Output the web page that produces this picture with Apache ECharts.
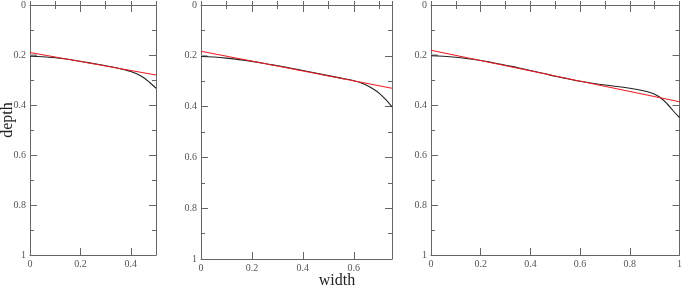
<!DOCTYPE html>
<html><head><meta charset="utf-8">
<script src="https://cdn.jsdelivr.net/npm/echarts@6/dist/echarts.min.js"></script>
<style>html,body{margin:0;padding:0;background:#fff}#c{width:685px;height:287px}</style>
</head><body><div id="c"></div>
<script>
// panel x-axis ranges
const widthMax = [0.5, 0.75, 1];

// panel 1 (width 0..0.5)
const w1 = [0, 0.05, 0.1, 0.15, 0.2, 0.25, 0.3, 0.35, 0.375, 0.4, 0.425, 0.45, 0.475, 0.5];
const depth1 = [0.205, 0.207, 0.211, 0.217, 0.225, 0.234, 0.243, 0.253, 0.259, 0.266, 0.276, 0.29, 0.31, 0.333];
const fitW1 = [0, 0.5];
const fitD1 = [0.19, 0.28];

// panel 2 (width 0..0.75)
const w2 = [0, 0.05, 0.1, 0.15, 0.2, 0.25, 0.3, 0.35, 0.4, 0.45, 0.5, 0.55, 0.6, 0.625, 0.65, 0.675, 0.7, 0.725, 0.75];
const depth2 = [0.203, 0.205, 0.209, 0.215, 0.222, 0.23, 0.239, 0.248, 0.258, 0.268, 0.278, 0.288, 0.298, 0.305, 0.316, 0.33, 0.348, 0.372, 0.401];
const fitW2 = [0, 0.75];
const fitD2 = [0.182, 0.328];

// panel 3 (width 0..1)
const w3 = [0, 0.05, 0.1, 0.15, 0.2, 0.25, 0.3, 0.35, 0.4, 0.45, 0.5, 0.55, 0.6, 0.65, 0.7, 0.75, 0.8, 0.85, 0.875, 0.9, 0.925, 0.95, 0.975, 1];
const depth3 = [0.203, 0.205, 0.209, 0.215, 0.222, 0.231, 0.241, 0.251, 0.262, 0.273, 0.285, 0.295, 0.305, 0.313, 0.32, 0.326, 0.333, 0.342, 0.348, 0.357, 0.372, 0.395, 0.424, 0.45];
const fitW3 = [0, 1];
const fitD3 = [0.181, 0.387];

// short grey start marks
const startW = [0, 0.025];
const startD = [0.2, 0.2];

const panels = [
  {w: w1, d: depth1, fw: fitW1, fd: fitD1},
  {w: w2, d: depth2, fw: fitW2, fd: fitD2},
  {w: w3, d: depth3, fw: fitW3, fd: fitD3}
];

const zip = (a, b) => a.map((v, i) => [v, b[i]]);

const grids = [
  {left: 30, top: 3, width: 126, height: 252},
  {left: 201, top: 3, width: 191, height: 256},
  {left: 431, top: 3, width: 251, height: 252}
];

const axisColor = '#666';
const labelStyle = {fontFamily: 'Liberation Serif', fontSize: 10, color: '#555'};

const xAxis = [], yAxis = [], series = [];
grids.forEach((g, i) => {
  const mx = widthMax[i];
  ['bottom', 'top'].forEach(pos => {
    xAxis.push({
      gridIndex: i, type: 'value', position: pos, min: 0, max: mx, interval: 0.2,
      axisLine: {show: true, onZero: false, lineStyle: {color: axisColor, width: 1}},
      axisTick: {show: true, inside: true, length: 7, lineStyle: {color: axisColor}},
      axisLabel: pos === 'bottom'
        ? Object.assign({show: true, margin: 4, showMaxLabel: i === 2, showMinLabel: true}, labelStyle)
        : {show: false},
      splitLine: {show: false}
    });
    xAxis.push({
      gridIndex: i, type: 'value', position: pos, min: 0, max: mx, interval: 0.1,
      axisLine: {show: false},
      axisTick: {show: true, inside: true, length: 4, lineStyle: {color: axisColor}},
      axisLabel: {show: false},
      splitLine: {show: false}
    });
  });
  ['left', 'right'].forEach(pos => {
    yAxis.push({
      gridIndex: i, type: 'value', position: pos, inverse: true, min: 0, max: 1, interval: 0.2,
      axisLine: {show: true, onZero: false, lineStyle: {color: axisColor, width: 1}},
      axisTick: {show: true, inside: true, length: 7, lineStyle: {color: axisColor}},
      minorTick: {show: true, splitNumber: 2, length: 4, lineStyle: {color: axisColor}},
      axisLabel: pos === 'left'
        ? Object.assign({show: true, margin: 4}, labelStyle)
        : {show: false},
      splitLine: {show: false}
    });
  });
  const p = panels[i];
  series.push({
    type: 'line', xAxisIndex: i * 4, yAxisIndex: i * 2,
    data: zip(startW, startD), showSymbol: false, silent: true,
    lineStyle: {color: '#999', width: 1.5}
  });
  series.push({
    type: 'line', xAxisIndex: i * 4, yAxisIndex: i * 2,
    data: zip(p.w, p.d), showSymbol: false, smooth: 0.4,
    lineStyle: {color: '#222', width: 1.1}
  });
  series.push({
    type: 'line', xAxisIndex: i * 4, yAxisIndex: i * 2,
    data: zip(p.fw, p.fd), showSymbol: false,
    lineStyle: {color: '#ee1c25', width: 1.1}
  });
});

const chart = echarts.init(document.getElementById('c'), null, {renderer: 'canvas'});
chart.setOption({
  animation: false,
  backgroundColor: '#fff',
  grid: grids.map(g => Object.assign({containLabel: false, show: false}, g)),
  xAxis, yAxis, series,
  graphic: [
    {type: 'text', x: 8, y: 120, rotation: Math.PI / 2,
     style: {text: 'depth', font: '16px "Liberation Serif"', fill: '#222', align: 'center', verticalAlign: 'middle'}},
    {type: 'text', x: 337, y: 281,
     style: {text: 'width', font: '16px "Liberation Serif"', fill: '#222', align: 'center', verticalAlign: 'middle'}}
  ]
});
</script></body></html>
